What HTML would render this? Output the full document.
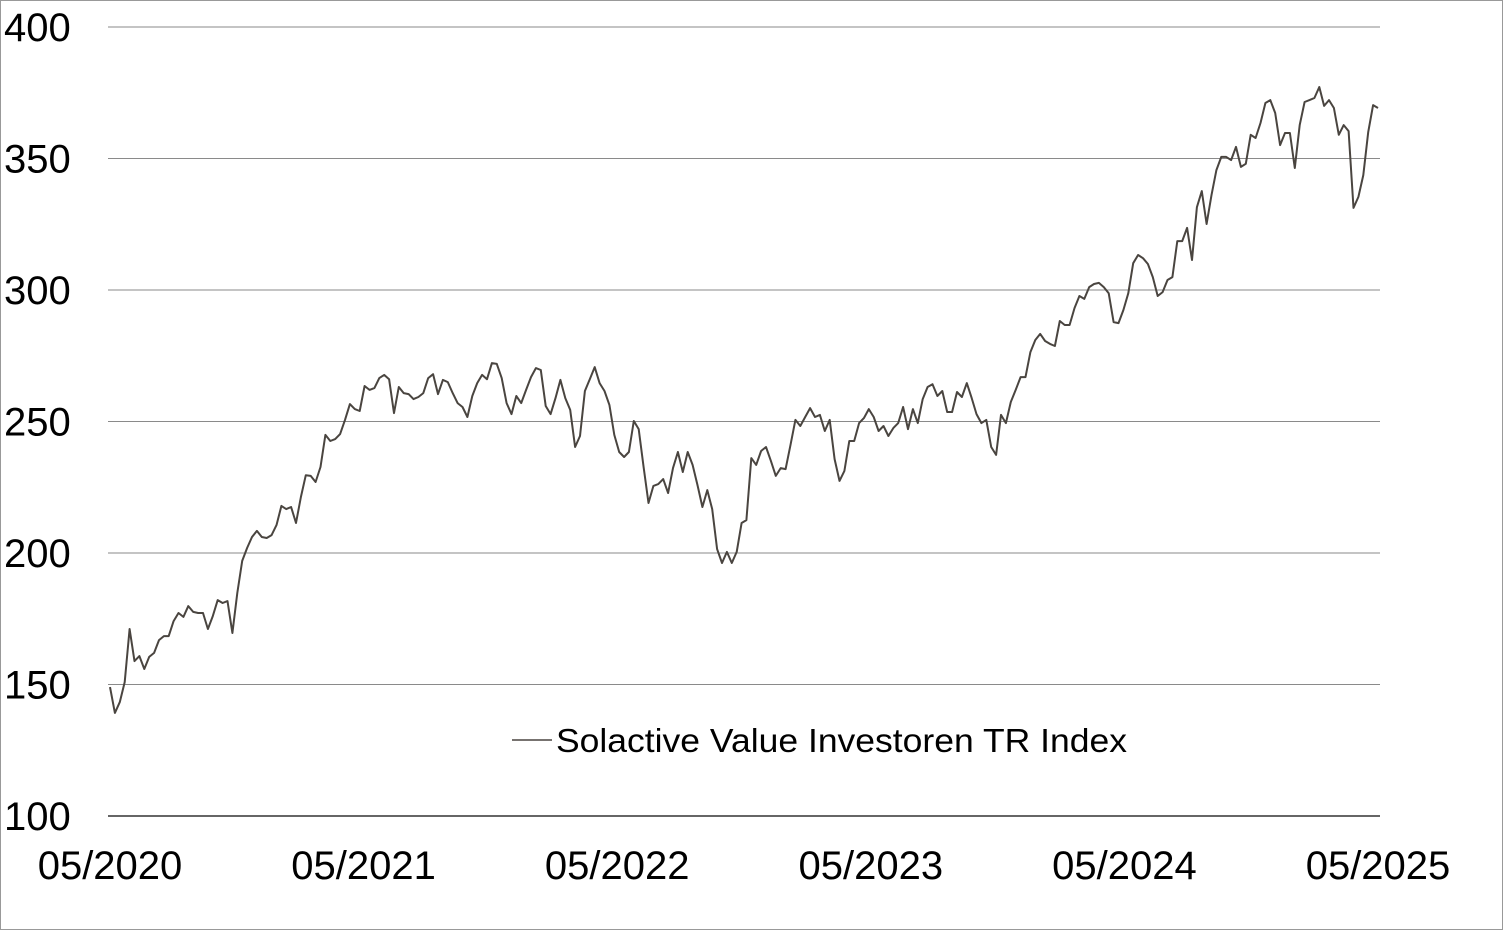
<!DOCTYPE html>
<html><head><meta charset="utf-8"><style>
html,body{margin:0;padding:0;background:#fff;}
svg{display:block;font-family:"Liberation Sans",sans-serif;}
</style></head><body>
<svg id="chart" width="1504" height="931" viewBox="0 0 1504 931">
<rect x="0.5" y="0.5" width="1502" height="929" fill="#fff" stroke="#999" stroke-width="1"/>
<g id="grid"></g><g id="yticks"></g><g id="xticks"></g><g id="series"></g>
<g>
<line x1="512" y1="740" x2="552" y2="740" stroke="#4a4540" stroke-width="1.5"/>
<text x="556" y="752" font-size="33" fill="#000" textLength="571" lengthAdjust="spacingAndGlyphs">Solactive Value Investoren TR Index</text>
</g>
</svg>
<script>
const yTicks=[100,150,200,250,300,350,400];
const xLabels=["05/2020","05/2021","05/2022","05/2023","05/2024","05/2025"];
const values=[149.0,139.2,143.3,150.9,171.1,158.9,160.8,155.9,160.5,162.0,166.9,168.4,168.4,174.1,177.2,175.7,179.8,177.6,177.2,177.2,171.1,176.0,182.1,181.0,181.7,169.6,184.8,197.0,201.9,206.1,208.4,206.1,205.7,206.8,210.6,217.9,216.7,217.5,211.4,221.3,229.6,229.3,227.0,232.7,244.9,242.6,243.3,245.2,250.6,256.6,254.7,254.0,263.5,262.0,262.7,266.5,267.7,266.1,253.2,263.1,260.8,260.4,258.5,259.3,260.8,266.5,268.0,260.4,265.8,265.0,260.8,257.0,255.5,251.7,259.7,264.6,267.7,266.1,272.2,271.9,266.5,257.0,252.8,259.7,257.0,262.0,266.9,270.3,269.6,255.9,252.8,258.9,265.8,258.9,254.4,240.3,244.5,261.6,266.1,270.7,264.6,261.6,256.3,244.9,238.4,236.5,238.4,250.2,247.1,232.7,219.0,225.5,226.2,228.1,222.8,232.3,238.4,230.8,238.4,233.5,225.8,217.5,223.9,216.7,201.5,196.2,200.4,196.2,200.4,211.4,212.5,236.1,233.5,238.8,240.3,235.0,229.3,232.3,231.9,241.1,250.6,248.3,251.7,255.1,251.7,252.5,246.4,250.6,235.7,227.4,231.2,242.6,242.6,249.4,251.3,254.7,251.7,246.4,248.3,244.5,247.5,249.4,255.5,247.1,254.7,249.4,258.5,263.1,264.2,259.7,261.6,253.6,253.6,261.2,259.3,264.6,258.9,252.8,249.4,250.6,240.3,237.3,252.5,249.4,257.4,262.0,266.9,266.9,276.4,281.0,283.3,280.6,279.5,278.7,288.2,286.7,286.7,293.1,297.7,296.6,301.1,302.3,302.7,301.1,298.8,287.8,287.4,292.4,298.8,310.2,313.3,312.1,309.9,304.9,297.7,299.2,303.8,304.9,318.6,318.6,323.6,311.4,331.5,337.6,325.1,336.1,345.6,350.6,350.6,349.4,354.4,346.8,348.0,359.0,357.8,363.5,371.1,372.2,367.3,355.1,359.7,359.7,346.4,362.7,371.5,372.2,373.0,377.2,370.0,372.2,369.2,359.0,362.7,360.4,331.2,335.4,343.7,360.0,370.3,369.2];
const X0=110,X1=1378,Y100=816,Y400=27;
const yScale=v=>Y100+(v-100)*(Y400-Y100)/300;
const xScale=i=>X0+i*(X1-X0)/(values.length-1);
const yearX=k=>X0+k*(X1-X0)/(xLabels.length-1);
const NS="http://www.w3.org/2000/svg";
const grid=document.getElementById('grid'),yt=document.getElementById('yticks'),xt=document.getElementById('xticks'),ser=document.getElementById('series');
yTicks.forEach(t=>{
 const y=yScale(t);
 const l=document.createElementNS(NS,'line');
 l.setAttribute('x1',108);l.setAttribute('x2',1380);l.setAttribute('y1',y);l.setAttribute('y2',y);
 l.setAttribute('stroke',t===100?'#333':'#8a8a8a');l.setAttribute('stroke-width',t===100?1.5:1);
 
 
 grid.appendChild(l);
 const tx=document.createElementNS(NS,'text');
 tx.setAttribute('x',4);tx.setAttribute('y',y+14);tx.setAttribute('font-size',40);tx.textContent=t;
 
 
 yt.appendChild(tx);
});
xLabels.forEach((s,k)=>{
 const tx=document.createElementNS(NS,'text');
 tx.setAttribute('x',yearX(k));tx.setAttribute('y',879);tx.setAttribute('font-size',40);tx.setAttribute('text-anchor','middle');tx.textContent=s;
 
 
 xt.appendChild(tx);
});
const p=document.createElementNS(NS,'polyline');
p.setAttribute('points',values.map((v,i)=>xScale(i).toFixed(1)+','+yScale(v).toFixed(1)).join(' '));
p.setAttribute('fill','none');p.setAttribute('stroke','#4a4540');p.setAttribute('stroke-width',2);p.setAttribute('stroke-linejoin','round');


ser.appendChild(p);
</script>
</body></html>
